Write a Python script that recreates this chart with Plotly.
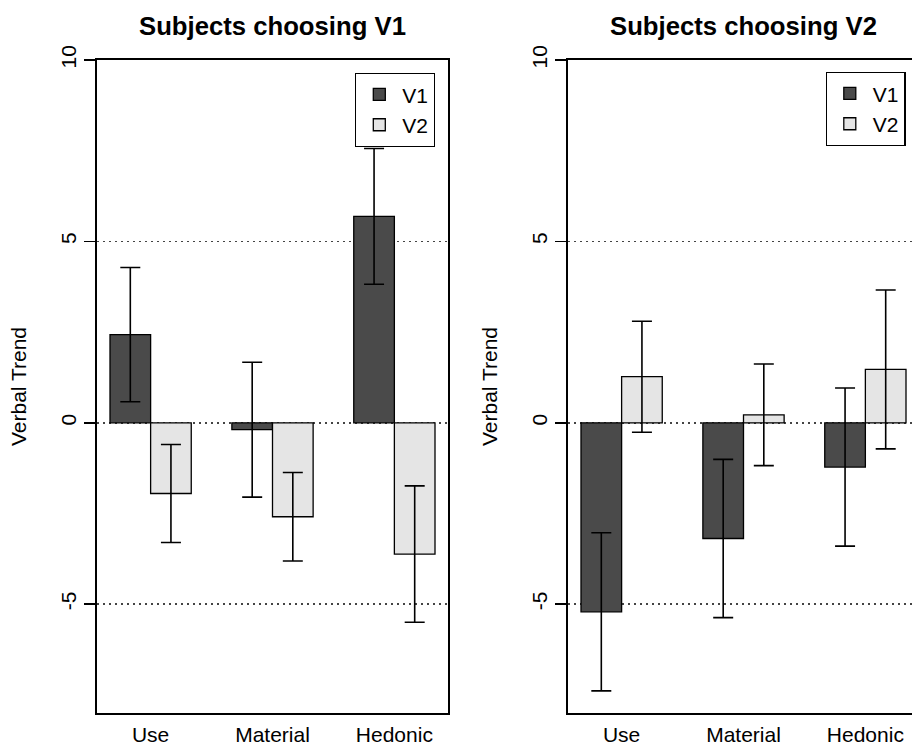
import plotly.graph_objects as go

# ---- data ----
categories = ["Use", "Material", "Hedonic"]
series_names = ["V1", "V2"]

left_v1 = [2.43, -0.19, 5.69]
left_v1_err = [1.85, 1.86, 1.87]
left_v2 = [-1.95, -2.59, -3.62]
left_v2_err = [1.35, 1.22, 1.88]

right_v1 = [-5.21, -3.19, -1.22]
right_v1_err = [2.18, 2.18, 2.18]
right_v2 = [1.27, 0.22, 1.47]
right_v2_err = [1.53, 1.40, 2.19]

panel_titles = ["Subjects choosing V1", "Subjects choosing V2"]
y_title = "Verbal Trend"
y_ticks = [-5, 0, 5, 10]

# ---- styling ----
W, H = 912, 747
FONT = "Liberation Sans, Arial, Helvetica, sans-serif"
colors = ["#4a4a4a", "#e5e5e5"]

fig = go.Figure()

panels = [
    (left_v1, left_v1_err, left_v2, left_v2_err, "x", "y", "legend"),
    (right_v1, right_v1_err, right_v2, right_v2_err, "x2", "y2", "legend2"),
]
for v1, e1, v2, e2, xa, ya, lg in panels:
    for name, vals, errs, col in [(series_names[0], v1, e1, colors[0]),
                                  (series_names[1], v2, e2, colors[1])]:
        fig.add_trace(go.Bar(
            x=categories, y=vals, name=name, xaxis=xa, yaxis=ya, legend=lg,
            marker=dict(color=col, line=dict(color="black", width=1.3)),
            error_y=dict(type="data", array=errs, visible=True,
                         color="black", thickness=1.6, width=10),
            showlegend=True,
        ))


# screen-pixel geometry -> paper coords
def px_x(p):
    return p / W


def px_y(p):
    return 1 - p / H


top, bottom = 60, 713
left_dom = [px_x(97), px_x(448)]
right_dom = [px_x(568), 1.0]
ydom = [px_y(bottom), px_y(top)]
px_per_cat = (448 - 97) / 2.88
right_range = [-0.44, -0.44 + (W - 568) / px_per_cat]

common_x = dict(
    type="category", showline=True, linecolor="black", linewidth=1.6,
    mirror=True, ticks="outside", ticklen=2, tickcolor="rgba(0,0,0,0)",
    showgrid=False, zeroline=False,
    tickfont=dict(family=FONT, size=21, color="black"), automargin=False,
    fixedrange=True,
)
common_y = dict(
    range=[-8, 10], tickvals=y_ticks, ticktext=[str(t) for t in y_ticks],
    showline=True, linecolor="black", linewidth=1.6,
    ticks="outside", ticklen=11, tickwidth=1.6, tickcolor="black",
    tickangle=-90, tickfont=dict(family=FONT, size=21, color="black"),
    showgrid=True, gridcolor="#444444", griddash="2px,4px", gridwidth=1.5,
    zeroline=False, automargin=False, fixedrange=True,
    title=dict(text=y_title, font=dict(family=FONT, size=21, color="black"),
               standoff=24),
)

legend_common = dict(
    bgcolor="white", bordercolor="black", borderwidth=1.3,
    font=dict(family=FONT, size=21, color="black"),
    xanchor="right", yanchor="top", tracegroupgap=0, itemclick=False,
    itemwidth=36,
)

fig.update_layout(
    width=W, height=H,
    margin=dict(l=0, r=0, t=0, b=0),
    paper_bgcolor="white", plot_bgcolor="white",
    barmode="group", bargap=1 / 3, bargroupgap=0,
    font=dict(family=FONT, color="black"),
    xaxis=dict(domain=left_dom, range=[-0.44, 2.44], anchor="y", **common_x),
    yaxis=dict(domain=ydom, anchor="x", **common_y, mirror=True),
    xaxis2=dict(domain=right_dom, range=right_range, anchor="y2", **common_x),
    yaxis2=dict(domain=ydom, anchor="x2", **common_y),
    legend=dict(x=px_x(435), y=px_y(73), **legend_common),
    legend2=dict(x=px_x(905.5), y=px_y(72), **legend_common),
    showlegend=True,
)

# panel titles
fig.add_annotation(
    text="<b>%s</b>" % panel_titles[0], xref="x domain", yref="paper",
    x=0.5, y=px_y(26), xanchor="center", yanchor="middle", showarrow=False,
    font=dict(family=FONT, size=25.7, color="black"),
)
# right panel is cut by the page edge: centre on the full (uncut) plot width
fig.add_annotation(
    text="<b>%s</b>" % panel_titles[1], xref="paper", yref="paper",
    x=px_x(743.5), y=px_y(26), xanchor="center", yanchor="middle",
    showarrow=False, font=dict(family=FONT, size=25.7, color="black"),
)

# remove the default page margin / scrollbars so the figure fills the window
page_fix = (
    "document.documentElement.style.overflow='hidden';"
    "document.body.style.margin='0px';"
    "document.body.style.overflow='hidden';"
)
fig.write_html("out.html", post_script=page_fix,
               config={"displayModeBar": False, "staticPlot": True})
